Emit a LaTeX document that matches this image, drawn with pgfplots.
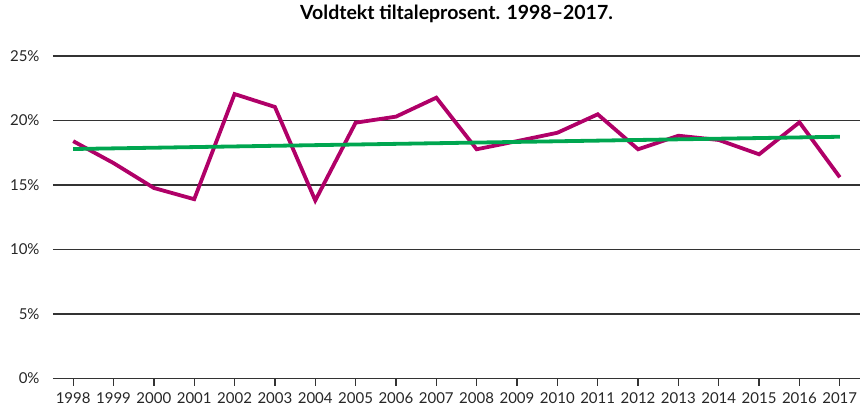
\documentclass[border=0pt]{standalone}
\usepackage{pgfplots}
\pgfplotsset{compat=1.18}
\usepackage{fontspec}
\setmainfont{Lato}
\definecolor{cmag}{HTML}{B00068}
\definecolor{cgreen}{HTML}{00A650}
\definecolor{cgrid}{HTML}{333333}

\begin{document}
\begin{tikzpicture}
% canvas 860x408 px, 1px = 1pt; axis origin at the 0% line, x=53px
\path[use as bounding box] (-53pt,-29.5pt) rectangle (807pt,378.5pt);
\begin{axis}[
  at={(0,0)}, anchor=origin,
  scale only axis,
  width=807pt, height=322.5pt,
  xmin=1997.5, xmax=2017.5,
  ymin=0, ymax=25,
  axis line style={draw=none},
  xtick={1998,...,2017},
  ytick={0,5,...,25},
  xtick pos=lower,
  yticklabel={\pgfmathprintnumber{\tick}\%},
  xticklabel style={/pgf/number format/.cd, 1000 sep={}},
  /pgf/number format/assume math mode=true,
  tick label style={font=\fontsize{15}{17}\selectfont, text=black!85},
  xtick style={draw=cgrid, line width=1.3pt},
  ytick style={draw=none},
  tick align=outside,
  major tick length=7pt,
  xticklabel shift=4pt,
  yticklabel shift=3pt,
  ymajorgrids,
  grid style={draw=cgrid, line width=1.4pt},
  title={\fontsize{19.5}{22}\selectfont\bfseries Voldtekt tiltaleprosent. 1998--2017.},
  title style={at={(0.5,1)}, anchor=center, yshift=36pt},
  clip=false,
]
\addplot[cmag, line width=3.8pt, line join=miter] coordinates {
  (1998,18.4) (1999,16.7) (2000,14.77) (2001,13.9) (2002,22.05)
  (2003,21.05) (2004,13.8) (2005,19.83) (2006,20.3) (2007,21.77)
  (2008,17.77) (2009,18.4) (2010,19.05) (2011,20.48) (2012,17.77)
  (2013,18.82) (2014,18.49) (2015,17.38) (2016,19.86) (2017,15.6)
};
\addplot[cgreen, line width=3.8pt] coordinates {
  (1998,17.79) (2017,18.74)
};
\end{axis}
\end{tikzpicture}
\end{document}
